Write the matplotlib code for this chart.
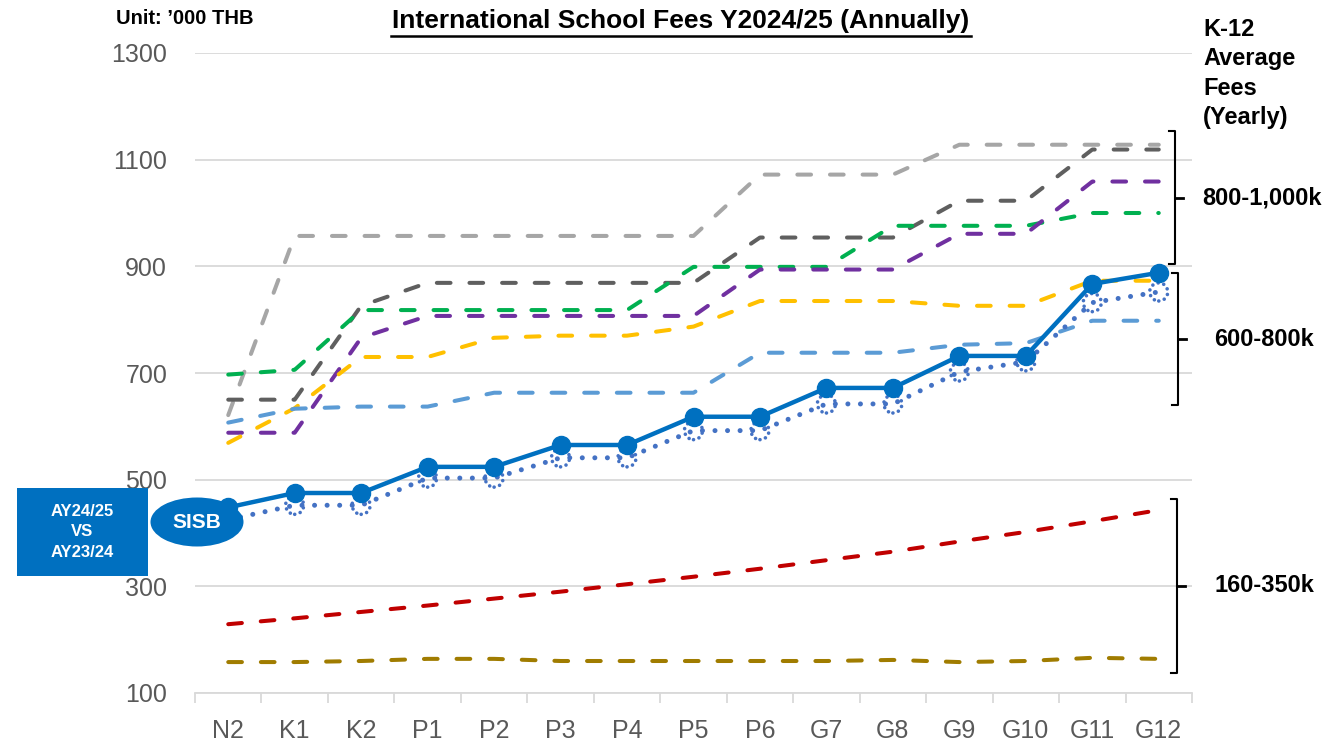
import numpy as np
import matplotlib
matplotlib.use("Agg")
from matplotlib import pyplot as plt
from matplotlib.patches import Rectangle, Ellipse
from matplotlib.lines import Line2D

plt.rcParams['font.family'] = ['Liberation Sans', 'DejaVu Sans']

# grades on the x axis
grades = ["N2", "K1", "K2", "P1", "P2", "P3", "P4", "P5", "P6",
          "G7", "G8", "G9", "G10", "G11", "G12"]

# fees in '000 THB
sisb_2425 = [448, 475, 475, 524, 524, 565, 565, 618, 618, 672, 672, 732, 732, 867, 888]
sisb_2324 = [425, 452, 452, 503, 503, 541, 541, 592, 592, 642, 642, 702, 721, 832, 852]

school_lgray = [621, 957, 957, 957, 957, 957, 957, 957, 1072, 1072, 1072, 1128, 1128, 1128, 1128]
school_dgray = [650, 650, 826, 869, 869, 869, 869, 869, 954, 954, 954, 1023, 1023, 1119, 1119]
school_green = [697, 706, 818, 818, 818, 818, 818, 899, 899, 899, 976, 976, 976, 1000, 1000]
school_purple = [588, 588, 766, 807, 807, 807, 807, 807, 894, 894, 894, 961, 961, 1059, 1059]
school_yellow = [569, 634, 730, 730, 766, 770, 770, 787, 835, 835, 835, 826, 826, 873, 873]
school_lblue = [607, 633, 637, 637, 663, 663, 663, 663, 738, 738, 738, 753, 756, 798, 798]
school_red = [229, 240, 252, 264, 277, 290, 304, 318, 333, 349, 365, 384, 402, 422, 443]
school_olive = [158, 158, 160, 164, 164, 160, 160, 160, 160, 160, 162, 158, 160, 166, 164]

dashed = [
    (school_lgray, '#A6A6A6'),
    (school_dgray, '#5F5F5F'),
    (school_green, '#00B050'),
    (school_purple, '#7030A0'),
    (school_yellow, '#FFC000'),
    (school_lblue, '#5B9BD5'),
    (school_red, '#C00000'),
    (school_olive, '#A07C00'),
]

fig = plt.figure(figsize=(13.3, 7.45), dpi=100)
ax = fig.add_axes([195 / 1330, 1 - 693 / 745, (1192 - 195) / 1330, (693 - 53) / 745])

x = np.arange(len(grades))

for vals, col in dashed:
    ax.plot(x, vals, color=col, lw=2.9, dashes=(3.4, 4.7),
            dash_capstyle='round', solid_capstyle='round', zorder=3)

# last year SISB, dotted
ax.plot(x, sisb_2324, color='#4472C4', lw=3.6, dashes=(0.01, 2.5),
        dash_capstyle='round', zorder=4)
dots = ax.scatter(x, sisb_2324, s=170, facecolors='none', edgecolors='#4472C4',
                  linewidths=2.6, linestyles=(0, (0.01, 1.6)), zorder=4)
dots.set_capstyle('round')

# this year SISB, solid
ax.plot(x, sisb_2425, color='#0070C0', lw=3.2, marker='o', markersize=13,
        zorder=5)

ax.set_xlim(-0.5, 14.5)
ax.set_ylim(100, 1300)
ax.set_yticks(np.arange(100, 1301, 200))
ax.set_xticks(x)
ax.set_xticklabels(grades)
ax.set_xticks(np.arange(-0.5, 15, 1), minor=True)

ax.grid(axis='y', color='#D9D9D9', lw=1.3)
ax.set_axisbelow(True)
for s in ['top', 'right', 'left']:
    ax.spines[s].set_visible(False)
ax.spines['bottom'].set_color('#D9D9D9')
ax.spines['bottom'].set_linewidth(1.3)

ax.tick_params(axis='y', length=0, pad=20, labelsize=18, labelcolor='#595959')
ax.tick_params(axis='x', which='major', length=0, pad=19, labelsize=18, labelcolor='#595959')
ax.tick_params(axis='x', which='minor', length=7, width=1.3, color='#D9D9D9')

# texts on top
fig.text(116 / 1330, 1 - 18 / 745, "Unit: \u2019000 THB", fontsize=14.5,
         fontweight='bold', va='center', ha='left')
fig.text(681 / 1330, 1 - 21 / 745, "International School Fees Y2024/25 (Annually)",
         fontsize=19, fontweight='bold', va='center', ha='center')
fig.add_artist(Line2D([391 / 1330, 971 / 1330], [1 - 36 / 745, 1 - 36 / 745],
                      color='black', lw=1.8))
fig.text(1203 / 1330, 1 - 18 / 745, "K-12\nAverage\nFees\n(Yearly)", fontsize=17,
         fontweight='bold', va='top', ha='left', linespacing=1.36)


def bracket(xv, top, bot, hook=6, tick=8):
    mid = (top + bot) / 2
    xs = [xv - hook, xv, xv, xv - hook]
    ys = [top, top, bot, bot]
    fig.add_artist(Line2D([p / 1330 for p in xs], [1 - p / 745 for p in ys],
                          color='black', lw=1.5))
    fig.add_artist(Line2D([xv / 1330, (xv + tick) / 1330],
                          [1 - mid / 745, 1 - mid / 745], color='black', lw=2))
    return mid


m1 = bracket(1175, 131, 264)
m2 = bracket(1178, 273, 405)
m3 = bracket(1177, 499, 673)
fig.text(1202 / 1330, 1 - m1 / 745, "800-1,000k", fontsize=17, fontweight='bold',
         va='center', ha='left')
fig.text(1264 / 1330, 1 - m2 / 745, "600-800k", fontsize=17, fontweight='bold',
         va='center', ha='center')
fig.text(1264 / 1330, 1 - m3 / 745, "160-350k", fontsize=17, fontweight='bold',
         va='center', ha='center')

# left side box and SISB bubble
fig.add_artist(Rectangle((17 / 1330, 1 - 576 / 745), 131 / 1330, 88 / 745,
                         facecolor='#0070C0', edgecolor='none', zorder=6))
fig.text(82 / 1330, 1 - 532 / 745, "AY24/25\nVS\nAY23/24", fontsize=12,
         fontweight='bold', color='white', va='center', ha='center',
         linespacing=1.45, zorder=7)
fig.add_artist(Ellipse((197 / 1330, 1 - 522 / 745), 93 / 1330, 49 / 745,
                       facecolor='#0070C0', edgecolor='none', zorder=6))
fig.text(197 / 1330, 1 - 522 / 745, "SISB", fontsize=15, fontweight='bold',
         color='white', va='center', ha='center', zorder=7)

fig.savefig("out.png", dpi=100)
